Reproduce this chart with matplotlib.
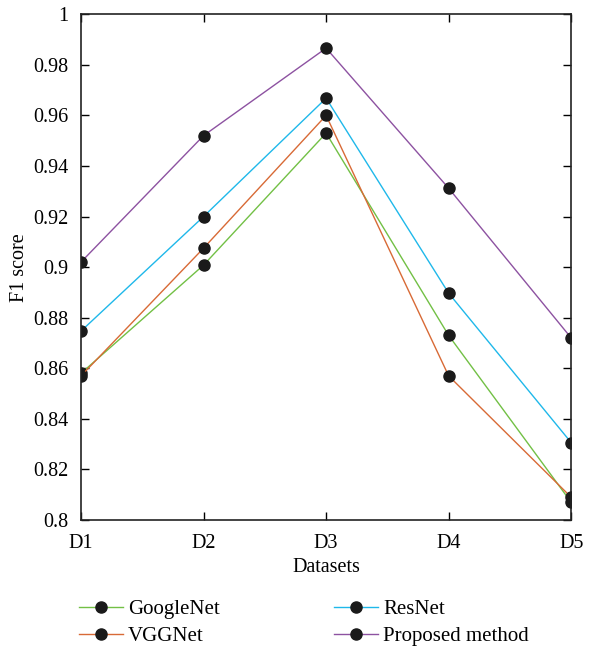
import matplotlib.pyplot as plt
import numpy as np

plt.rcParams['font.family'] = ['Liberation Serif', 'DejaVu Serif']

datasets = ["D1", "D2", "D3", "D4", "D5"]
googlenet = [0.858, 0.9008, 0.953, 0.873, 0.807]
vggnet = [0.857, 0.9075, 0.960, 0.857, 0.809]
resnet = [0.8747, 0.920, 0.9668, 0.8897, 0.8306]
proposed = [0.902, 0.952, 0.9866, 0.9312, 0.872]

fig = plt.figure(figsize=(6, 6.48), dpi=100)
ax = fig.add_axes([0.135, 0.1975, 0.817, 0.7805])

x = np.arange(len(datasets))
series = [
    ("GoogleNet", googlenet, "#72c045"),
    ("VGGNet", vggnet, "#d86a36"),
    ("ResNet", resnet, "#1fb8ea"),
    ("Proposed method", proposed, "#8d52a1"),
]
for name, vals, col in series:
    ax.plot(x, vals, color=col, lw=1.0, marker="o", markersize=8,
            markerfacecolor="#1a1a1a", markeredgecolor="#1a1a1a", label=name)

ax.set_xlim(0, 4)
ax.set_ylim(0.8, 1.0)
ax.set_xticks(x)
ax.set_xticklabels(datasets)
ax.set_yticks(np.arange(0.8, 1.001, 0.02))
ax.set_yticklabels(["0.8", "0.82", "0.84", "0.86", "0.88", "0.9", "0.92",
                    "0.94", "0.96", "0.98", "1"])
ax.tick_params(direction="in", top=True, right=True, labelsize=14.5, length=6,
               width=1.0)
ax.tick_params(axis="y", pad=9)
ax.tick_params(axis="x", pad=10)
for s in ax.spines.values():
    s.set_linewidth(1.2)
    s.set_color("#222222")

ax.set_xlabel("Datasets", fontsize=14.5, labelpad=4)
ax.set_ylabel("F1 score", fontsize=14.5, labelpad=3)

fig.legend(loc="lower left", bbox_to_anchor=(0.1, -0.026), ncol=2, frameon=False,
           fontsize=15, handlelength=2.1, handletextpad=0.25, columnspacing=5.5,
           labelspacing=0.35)

plt.savefig("out.png", dpi=100)
